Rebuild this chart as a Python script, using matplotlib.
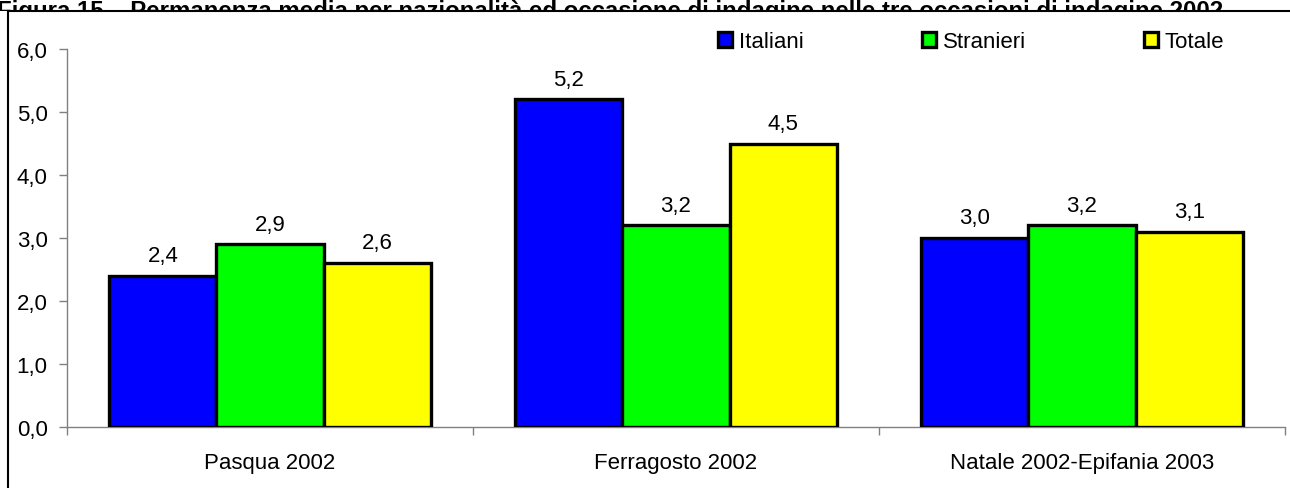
import numpy as np
import matplotlib.pyplot as plt
from matplotlib.patches import Patch
from matplotlib.lines import Line2D
from matplotlib.transforms import Bbox, TransformedBbox

plt.rcParams['font.family'] = ['Liberation Sans', 'DejaVu Sans']

occasioni = ['Pasqua 2002', 'Ferragosto 2002', 'Natale 2002-Epifania 2003']
italiani = [2.4, 5.2, 3.0]
stranieri = [2.9, 3.2, 3.2]
totale = [2.6, 4.5, 3.1]
serie = ['Italiani', 'Stranieri', 'Totale']
colori = ['#0000ff', '#00ff00', '#ffff00']
titolo = 'Figura 15 \u2013 Permanenza media per nazionalit\u00e0 ed occasione di indagine nelle tre occasioni di indagine 2002'

W, H = 1290, 489
fig = plt.figure(figsize=(W / 100, H / 100), dpi=100)
ax = fig.add_axes([67 / W, 1 - 428 / H, (1285 - 67) / W, (428 - 50) / H])

x = np.arange(len(occasioni))
bw = 0.264
for i, (vals, col) in enumerate(zip([italiani, stranieri, totale], colori)):
    pos = x + (i - 1) * bw
    ax.bar(pos, vals, width=bw, color=col, edgecolor='black', linewidth=2.4, zorder=3)
    for p, v in zip(pos, vals):
        ax.annotate(('%.1f' % v).replace('.', ','), (p, v), xytext=(0, 7),
                    textcoords='offset points', ha='center', va='bottom', fontsize=16)

ax.set_xlim(-0.5, 2.5)
ax.set_ylim(0, 6)
ax.set_yticks(np.arange(0, 6.1, 1))
ax.set_yticklabels([('%.1f' % t).replace('.', ',') for t in np.arange(0, 6.1, 1)], fontsize=16)
ax.set_xticks([-0.5, 0.5, 1.5, 2.5])
ax.set_xticklabels([])
ax.set_xticks(x, minor=True)
ax.set_xticklabels(occasioni, minor=True, fontsize=16)
ax.tick_params(axis='x', which='minor', length=0, pad=18)
ax.tick_params(axis='both', which='major', length=6, width=1, color='#808080', direction='out')
ax.tick_params(axis='y', pad=8)
for s in ['top', 'right']:
    ax.spines[s].set_visible(False)
for s in ['left', 'bottom']:
    ax.spines[s].set_color('#808080')
    ax.spines[s].set_linewidth(1)

handles = [Patch(facecolor=c, edgecolor='black', linewidth=2.4) for c in colori]
ax.legend(handles, serie, ncol=3, frameon=False, fontsize=16, loc='upper left',
          bbox_to_anchor=(642 / 1218, 1.07), handlelength=0.65, handleheight=0.65,
          handletextpad=0.3, columnspacing=5.3, borderaxespad=0)

# cornice della figura
fig.add_artist(Line2D([8 / W, 1], [1 - 12 / H, 1 - 12 / H], color='black', lw=1.5))
fig.add_artist(Line2D([8 / W, 8 / W], [0, 1 - 12 / H], color='black', lw=1.5))

# titolo tagliato in alto
t = fig.text(-0.002, 1 - 18 / H, titolo, fontsize=17.3, fontweight='bold', ha='left', va='baseline')
t.set_clip_box(TransformedBbox(Bbox([[0, 1 - 12 / H], [1, 1]]), fig.transFigure))
t.set_clip_on(True)

fig.savefig('out.png', dpi=100)
